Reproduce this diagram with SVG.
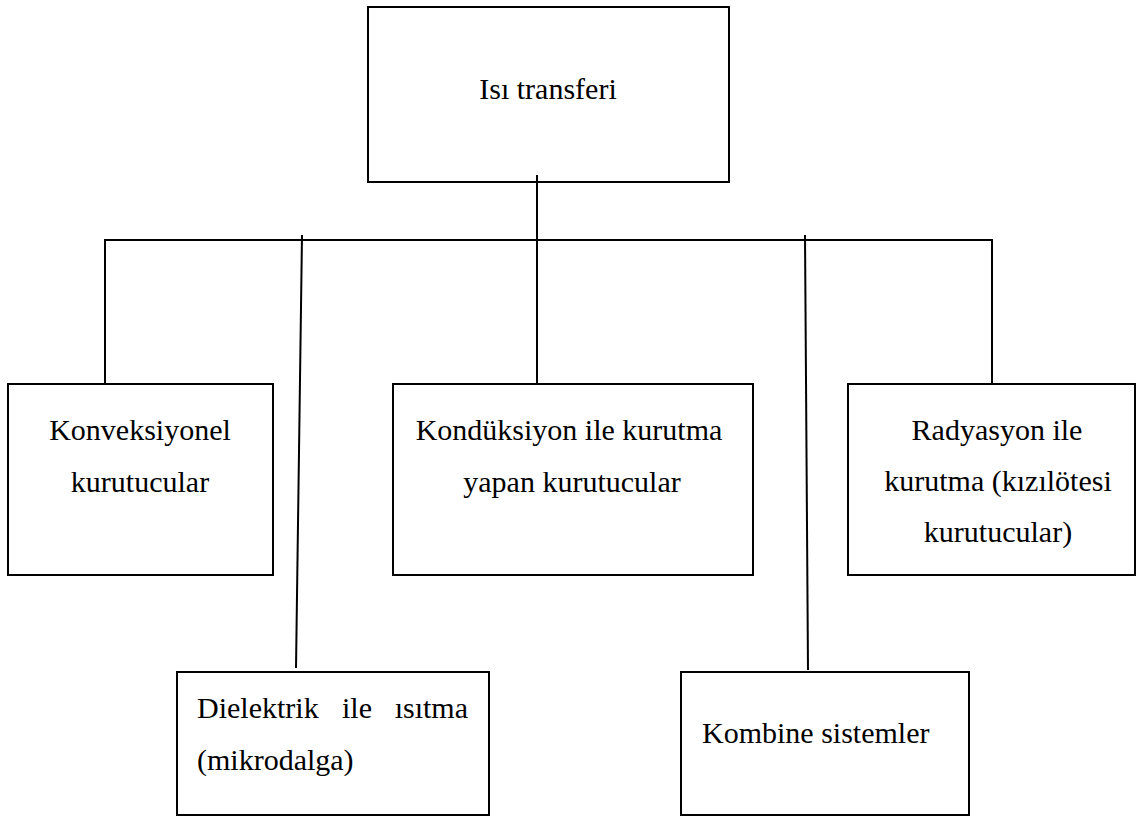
<svg xmlns="http://www.w3.org/2000/svg" width="1137" height="819" viewBox="0 0 1137 819">
<style>
.box{fill:#fff;stroke:#000;stroke-width:2}
.ln{stroke:#000;stroke-width:2;fill:none}
text{font-family:"Liberation Serif","Times New Roman",serif;font-size:30px;fill:#000}
.c{text-anchor:middle}
</style>
<rect width="1137" height="819" fill="#fff"/>
<g id="connectors">
<line class="ln" x1="537" y1="175" x2="537" y2="384"/>
<line class="ln" x1="104" y1="240" x2="993" y2="240"/>
<line class="ln" x1="105" y1="240" x2="105" y2="384"/>
<line class="ln" x1="992" y1="240" x2="992" y2="384"/>
<line class="ln" x1="302" y1="235" x2="296" y2="668"/>
<line class="ln" x1="805" y1="235" x2="808" y2="670"/>
</g>
<g id="n-top">
<rect class="box" x="368" y="7" width="361" height="175" style="fill:none"/>
<text class="c" x="548" y="99">Isı transferi</text>
</g>
<g id="n-konv">
<rect class="box" x="8" y="384" width="265" height="191"/>
<text class="c" x="140" y="440">Konveksiyonel</text>
<text class="c" x="140" y="492">kurutucular</text>
</g>
<g id="n-kond">
<rect class="box" x="393" y="384" width="360" height="191"/>
<text class="c" x="569" y="440">Kondüksiyon ile kurutma</text>
<text class="c" x="572" y="492">yapan kurutucular</text>
</g>
<g id="n-rad">
<rect class="box" x="848" y="384" width="287" height="191"/>
<text class="c" x="997" y="440">Radyasyon ile</text>
<text class="c" x="998" y="491">kurutma (kızılötesi</text>
<text class="c" x="998" y="542">kurutucular)</text>
</g>
<g id="n-diel">
<rect class="box" x="177" y="672" width="312" height="143"/>
<text x="197" y="718">Dielektrik</text>
<text x="342" y="718">ile</text>
<text x="468" y="718" style="text-anchor:end">ısıtma</text>
<text x="197" y="770">(mikrodalga)</text>
</g>
<g id="n-komb">
<rect class="box" x="681" y="672" width="288" height="143"/>
<text x="702" y="743">Kombine sistemler</text>
</g>
</svg>
